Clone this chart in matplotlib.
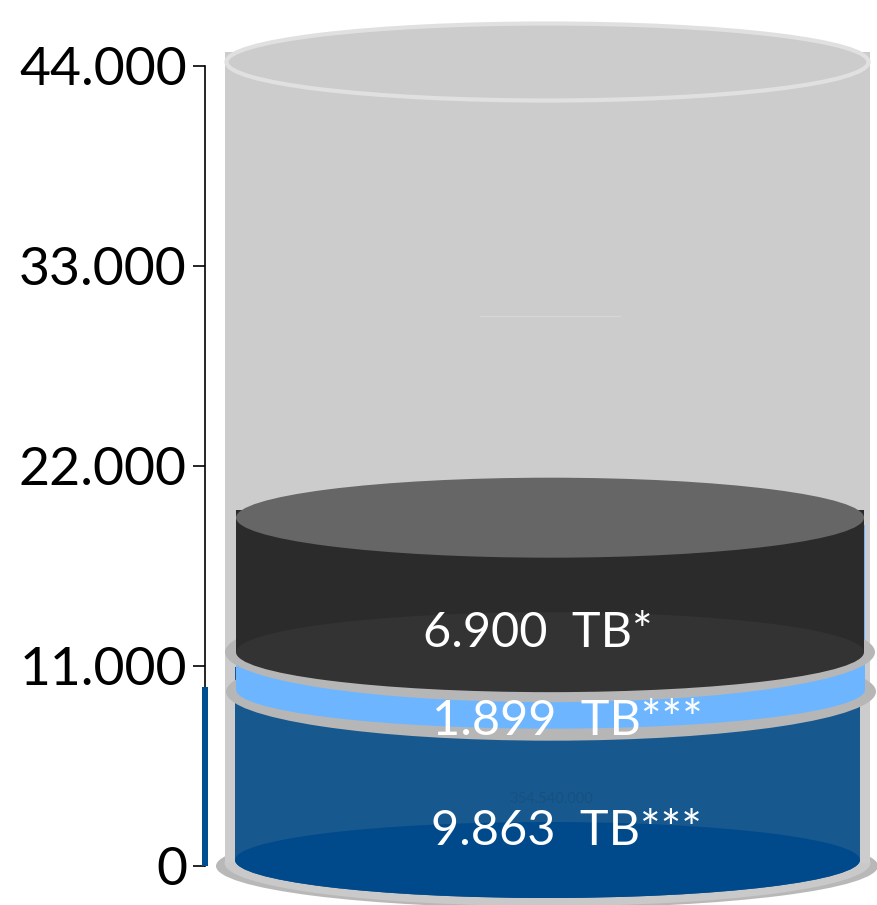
import matplotlib
matplotlib.use("Agg")
import matplotlib.pyplot as plt
from matplotlib.patches import Ellipse, Rectangle

plt.rcParams['font.family'] = ['Lato', 'DejaVu Sans']

# data
segments = [9863, 1899, 6900]
segment_labels = ["9.863\u2002TB***", "1.899\u2002TB***", "6.900\u2002TB*"]
capacity = 44000
tick_values = [0, 11000, 22000, 33000, 44000]
tick_labels = ["0", "11.000", "22.000", "33.000", "44.000"]
faint_label = "354.540.000"
faint_mark = 30250

PX = 55.0  # value units per pixel
fig = plt.figure(figsize=(8.77, 9.05), dpi=100)
ax = fig.add_axes([0, 0, 1, 1])
ax.set_xlim(0, 877)
ax.set_ylim(-39 * PX, 866 * PX)
ax.patch.set_alpha(0)

CX = 547.5
blue_top = segments[0]
light_top = segments[0] + segments[1]
dark_top = sum(segments)


def ell(cx, y, hw, hh_px, color, z, **kw):
    ax.add_patch(Ellipse((cx, y), 2 * hw, 2 * hh_px * PX, facecolor=color,
                         edgecolor=kw.pop('ec', 'none'), lw=kw.pop('lw', 0), zorder=z, **kw))


def rect(x0, x1, y0, y1, color, z):
    ax.add_patch(Rectangle((x0, y0), x1 - x0, y1 - y0, facecolor=color, edgecolor='none', zorder=z))


# outer cylinder
ell(CX - 0.5, -0 * PX, 331, 42, '#b8b8b8', 1)
ell(CX, 3 * PX, 323, 43, '#c9c9c9', 2)
rect(225, 870, 3 * PX, capacity + 14 * PX, '#cccccc', 2)
ell(CX, capacity + 4 * PX, 321, 38.5, '#cccccc', 3, ec='#e0e0e0', lw=3)
ax.plot([480, 620], [faint_mark, faint_mark], color='#d6d6d6', lw=1.0, zorder=3)

# blue segment
rect(235, 860, 6 * PX, blue_top + 20 * PX, '#17588f', 4)
ell(547.5, 6 * PX, 312.5, 38, '#17588f', 4)
ell(547.5, 6 * PX, 312.5, 38, '#004a8c', 5)
ax.text(551, blue_top - 112 * PX, faint_label, color='#14527f', fontsize=10.5, ha='center', va='center', zorder=4.5)

# light segment
ell(551, blue_top - 5 * PX, 325, 49, '#b6b6b6', 6)
rect(236, 865, blue_top + 20 * PX, dark_top + 2 * PX, '#6db6ff', 7)
ell(550.5, blue_top - 3 * PX, 314.5, 39, '#6db6ff', 7)
rect(236, 865, blue_top - 3 * PX, dark_top, '#6db6ff', 7)

# dark segment
ell(550, light_top, 325, 50, '#b6b6b6', 8)
rect(236, 864, light_top, dark_top + 17 * PX, '#2b2b2b', 9)
ell(550, light_top, 314, 40, '#333333', 9)
ell(550, dark_top + 9 * PX, 314, 40, '#666666', 10)

# left bar and axis
ax.bar([205], [segments[0]], width=6, color='#004f92', zorder=4)
for s in ('top', 'right', 'bottom'):
    ax.spines[s].set_visible(False)
ax.spines['left'].set_position(('data', 205))
ax.spines['left'].set_bounds(0, capacity)
ax.spines['left'].set_linewidth(1.2)
ax.set_xticks([])
ax.set_yticks(tick_values, tick_labels)
ax.tick_params(axis='y', length=9, width=1.2, pad=4, labelsize=38.5, colors='black')

# labels
ax.text(566, blue_top - 144 * PX, segment_labels[0], color='white', fontsize=35, ha='center', va='center', zorder=12)
ax.text(567, blue_top - 34 * PX, segment_labels[1], color='white', fontsize=35, ha='center', va='center', zorder=12)
ax.text(538, light_top + 19 * PX, segment_labels[2], color='white', fontsize=35, ha='center', va='center', zorder=12)

fig.savefig('out.png', dpi=100)
